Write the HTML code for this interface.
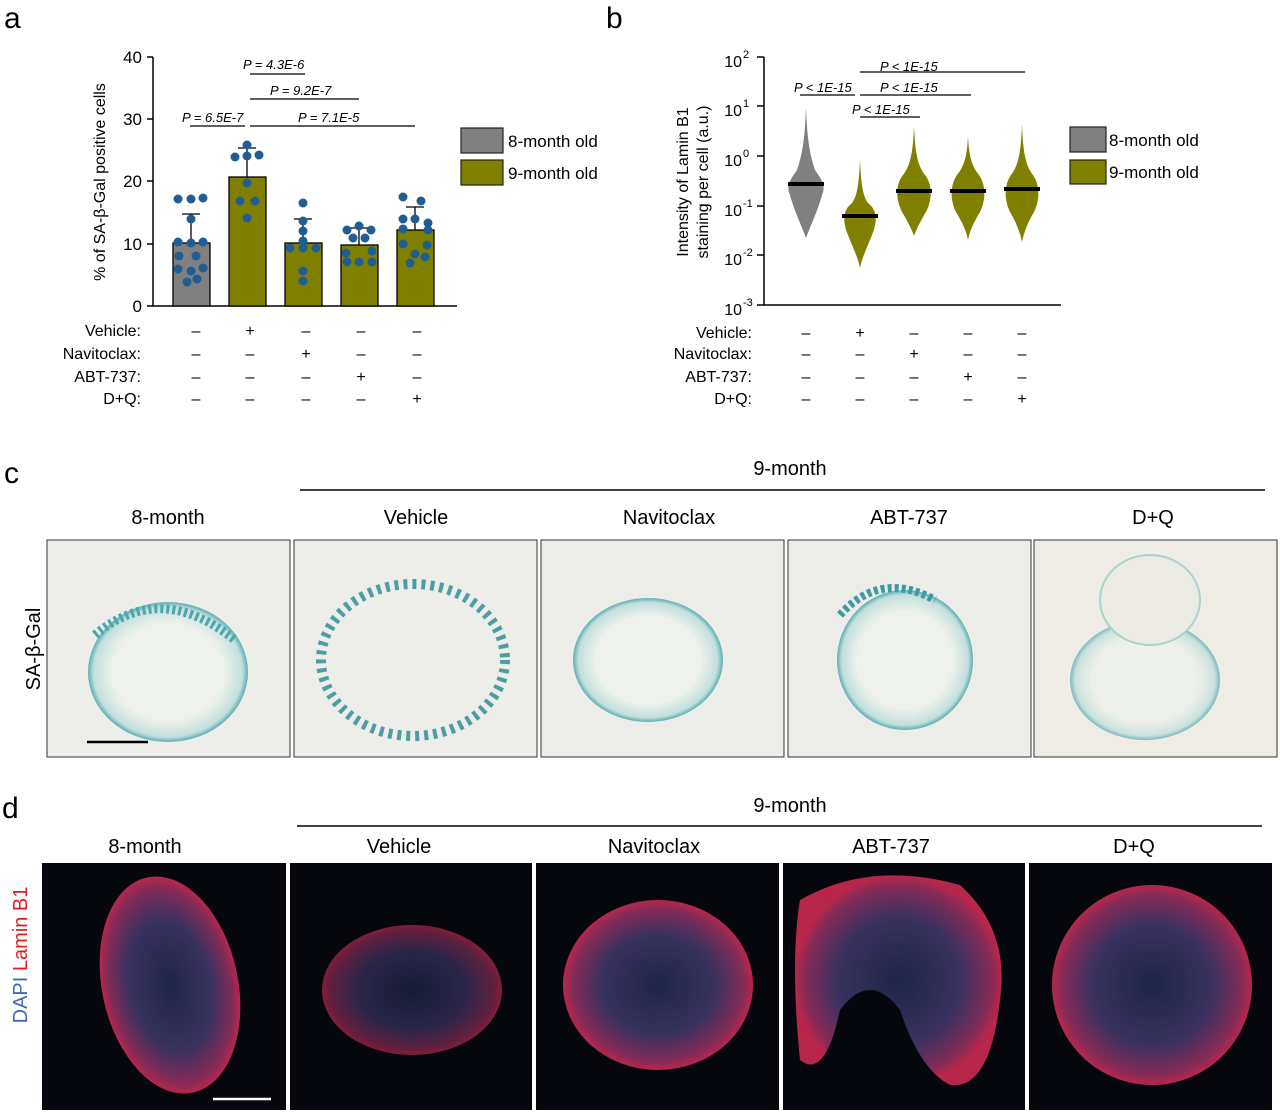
<!DOCTYPE html>
<html><head><style>
body{margin:0;background:#fff}
svg{display:block}
text{font-family:"Liberation Sans",Arial,sans-serif;fill:#000}
.it{font-style:italic;font-size:13px}
</style></head><body>
<svg width="1280" height="1112" viewBox="0 0 1280 1112" xmlns="http://www.w3.org/2000/svg">
<defs>
<radialGradient id="tealg" cx="50%" cy="50%" r="50%">
<stop offset="0.7" stop-color="#eef1ec"/><stop offset="0.93" stop-color="#c2dfdc"/><stop offset="1" stop-color="#5aaeb4"/>
</radialGradient>
<radialGradient id="redg" cx="50%" cy="50%" r="50%">
<stop offset="0" stop-color="#1e2448"/><stop offset="0.6" stop-color="#3a3260"/><stop offset="0.9" stop-color="#852a55"/><stop offset="1" stop-color="#b8264c"/>
</radialGradient>
</defs>
<text x="4" y="28" font-size="30">a</text>
<text x="606" y="28" font-size="30">b</text>
<text x="4" y="483" font-size="30">c</text>
<text x="2" y="818" font-size="30">d</text>

<!-- PANEL A -->
<g stroke="#000" stroke-width="1.5" fill="none">
<path d="M153,57 V306 H457"/>
<path d="M147,57H153 M147,119H153 M147,181H153 M147,244H153 M147,306H153"/>
</g>
<g font-size="17" text-anchor="end">
<text x="142" y="63">40</text><text x="142" y="125">30</text><text x="142" y="187">20</text><text x="142" y="250">10</text><text x="142" y="312">0</text>
</g>
<text transform="translate(105,182) rotate(-90)" font-size="16" text-anchor="middle">% of SA-β-Gal positive cells</text>
<g stroke="#000" stroke-width="1.3">
<rect x="173" y="243" width="37" height="63" fill="#808080"/>
<rect x="229" y="177" width="37" height="129" fill="#808000"/>
<rect x="285" y="243" width="37" height="63" fill="#808000"/>
<rect x="341" y="245" width="37" height="61" fill="#808000"/>
<rect x="397" y="230" width="37" height="76" fill="#808000"/>
<path d="M191,243V214 M182,214H200 M247,177V148 M238,148H256 M303,243V219 M294,219H312 M359,245V228 M350,228H368 M415,230V207 M406,207H424" fill="none"/>
</g>
<g fill="#1f5d93">
<circle cx="178" cy="199" r="4.5"/><circle cx="191" cy="199" r="4.5"/><circle cx="203" cy="198" r="4.5"/><circle cx="191" cy="219" r="4.5"/><circle cx="178" cy="242" r="4.5"/><circle cx="191" cy="243" r="4.5"/><circle cx="203" cy="242" r="4.5"/><circle cx="179" cy="256" r="4.5"/><circle cx="196" cy="256" r="4.5"/><circle cx="178" cy="269" r="4.5"/><circle cx="191" cy="271" r="4.5"/><circle cx="203" cy="268" r="4.5"/><circle cx="187" cy="282" r="4.5"/><circle cx="197" cy="279" r="4.5"/>
<circle cx="247" cy="145" r="4.5"/><circle cx="235" cy="157" r="4.5"/><circle cx="247" cy="156" r="4.5"/><circle cx="259" cy="155" r="4.5"/><circle cx="247" cy="183" r="4.5"/><circle cx="240" cy="201" r="4.5"/><circle cx="255" cy="201" r="4.5"/><circle cx="247" cy="218" r="4.5"/>
<circle cx="303" cy="203" r="4.5"/><circle cx="303" cy="221" r="4.5"/><circle cx="303" cy="231" r="4.5"/><circle cx="303" cy="241" r="4.5"/><circle cx="290" cy="248" r="4.5"/><circle cx="303" cy="248" r="4.5"/><circle cx="316" cy="248" r="4.5"/><circle cx="303" cy="271" r="4.5"/><circle cx="303" cy="281" r="4.5"/>
<circle cx="347" cy="230" r="4.5"/><circle cx="359" cy="226" r="4.5"/><circle cx="371" cy="230" r="4.5"/><circle cx="353" cy="238" r="4.5"/><circle cx="365" cy="238" r="4.5"/><circle cx="346" cy="253" r="4.5"/><circle cx="372" cy="251" r="4.5"/><circle cx="347" cy="262" r="4.5"/><circle cx="359" cy="262" r="4.5"/><circle cx="372" cy="262" r="4.5"/>
<circle cx="403" cy="197" r="4.5"/><circle cx="421" cy="201" r="4.5"/><circle cx="403" cy="219" r="4.5"/><circle cx="415" cy="219" r="4.5"/><circle cx="428" cy="223" r="4.5"/><circle cx="403" cy="229" r="4.5"/><circle cx="428" cy="230" r="4.5"/><circle cx="403" cy="244" r="4.5"/><circle cx="427" cy="245" r="4.5"/><circle cx="415" cy="254" r="4.5"/><circle cx="425" cy="257" r="4.5"/><circle cx="410" cy="263" r="4.5"/>
</g>
<g stroke="#000" stroke-width="1.2">
<path d="M250,74H305 M250,99H359 M190,126H245 M250,126H415"/>
</g>
<text class="it" x="243" y="69">P = 4.3E-6</text>
<text class="it" x="270" y="95">P = 9.2E-7</text>
<text class="it" x="182" y="122">P = 6.5E-7</text>
<text class="it" x="298" y="122">P = 7.1E-5</text>
<rect x="461" y="128" width="42" height="25" fill="#808080" stroke="#222" stroke-width="1.2"/>
<rect x="461" y="160" width="42" height="25" fill="#808000" stroke="#222" stroke-width="1.2"/>
<text x="508" y="147" font-size="17">8-month old</text>
<text x="508" y="179" font-size="17">9-month old</text>
<g font-size="16">
<g text-anchor="end"><text x="141" y="336">Vehicle:</text><text x="141" y="359">Navitoclax:</text><text x="141" y="382">ABT-737:</text><text x="141" y="404">D+Q:</text></g>
<g text-anchor="middle">
<text x="196" y="336">–</text><text x="250" y="336">+</text><text x="306" y="336">–</text><text x="361" y="336">–</text><text x="417" y="336">–</text>
<text x="196" y="359">–</text><text x="250" y="359">–</text><text x="306" y="359">+</text><text x="361" y="359">–</text><text x="417" y="359">–</text>
<text x="196" y="382">–</text><text x="250" y="382">–</text><text x="306" y="382">–</text><text x="361" y="382">+</text><text x="417" y="382">–</text>
<text x="196" y="404">–</text><text x="250" y="404">–</text><text x="306" y="404">–</text><text x="361" y="404">–</text><text x="417" y="404">+</text>
</g></g>

<!-- PANEL B -->
<g stroke="#000" stroke-width="1.5" fill="none">
<path d="M764,57 V305 H1061"/>
<path d="M757,57H764 M757,106H764 M757,156H764 M757,206H764 M757,255H764 M757,305H764"/>
</g>
<g font-size="16" text-anchor="end">
<text x="742" y="67">10</text><text x="742" y="116">10</text><text x="742" y="166">10</text><text x="742" y="216">10</text><text x="742" y="265">10</text><text x="742" y="315">10</text>
</g>
<g font-size="11">
<text x="743" y="58">2</text><text x="743" y="107">1</text><text x="743" y="157">0</text><text x="743" y="207">-1</text><text x="743" y="256">-2</text><text x="743" y="306">-3</text>
</g>
<text transform="translate(688,182) rotate(-90)" font-size="16" text-anchor="middle">Intensity of Lamin B1</text>
<text transform="translate(708,182) rotate(-90)" font-size="16" text-anchor="middle">staining per cell (a.u.)</text>
<path d="M806,108 C807,130 808,150 815,170 C822,180 826,186 822,195 C818,210 812,222 806,238 C800,222 794,210 790,195 C786,186 790,180 797,170 C804,150 805,130 806,108Z" fill="#808080"/>
<path d="M860,160 C861,180 862,195 868,203 C877,210 878,220 872,235 C866,250 862,258 860,268 C858,258 854,250 848,235 C842,220 843,210 852,203 C858,195 859,180 860,160Z" fill="#808000"/>
<path d="M914,126 C915,150 917,165 925,175 C933,185 932,200 926,212 C920,222 916,230 914,236 C912,230 908,222 902,212 C896,200 895,185 903,175 C911,165 913,150 914,126Z" fill="#808000"/>
<path d="M968,136 C969,155 971,165 979,175 C986,185 986,200 980,212 C974,222 970,230 968,240 C966,230 962,222 956,212 C950,200 950,185 957,175 C965,165 967,155 968,136Z" fill="#808000"/>
<path d="M1022,124 C1023,150 1025,165 1033,175 C1040,185 1040,200 1034,212 C1028,222 1024,232 1022,242 C1020,232 1016,222 1010,212 C1004,200 1004,185 1011,175 C1019,165 1021,150 1022,124Z" fill="#808000"/>
<g stroke="#000" stroke-width="4">
<path d="M788,184H824 M842,216H878 M896,191H932 M950,191H986 M1004,189H1040"/>
</g>
<g stroke="#000" stroke-width="1.2">
<path d="M860,72H1025 M860,95H971 M800,95H855 M860,117H920"/>
</g>
<text class="it" x="880" y="71">P &lt; 1E-15</text>
<text class="it" x="794" y="92">P &lt; 1E-15</text>
<text class="it" x="880" y="92">P &lt; 1E-15</text>
<text class="it" x="852" y="114">P &lt; 1E-15</text>
<rect x="1070" y="127" width="36" height="25" fill="#808080" stroke="#222" stroke-width="1.2"/>
<rect x="1070" y="160" width="36" height="24" fill="#808000" stroke="#222" stroke-width="1.2"/>
<text x="1109" y="146" font-size="17">8-month old</text>
<text x="1109" y="178" font-size="17">9-month old</text>
<g font-size="16">
<g text-anchor="end"><text x="752" y="338">Vehicle:</text><text x="752" y="359">Navitoclax:</text><text x="752" y="382">ABT-737:</text><text x="752" y="404">D+Q:</text></g>
<g text-anchor="middle">
<text x="806" y="338">–</text><text x="860" y="338">+</text><text x="914" y="338">–</text><text x="968" y="338">–</text><text x="1022" y="338">–</text>
<text x="806" y="359">–</text><text x="860" y="359">–</text><text x="914" y="359">+</text><text x="968" y="359">–</text><text x="1022" y="359">–</text>
<text x="806" y="382">–</text><text x="860" y="382">–</text><text x="914" y="382">–</text><text x="968" y="382">+</text><text x="1022" y="382">–</text>
<text x="806" y="404">–</text><text x="860" y="404">–</text><text x="914" y="404">–</text><text x="968" y="404">–</text><text x="1022" y="404">+</text>
</g></g>

<!-- PANEL C -->
<text x="790" y="475" font-size="20" text-anchor="middle">9-month</text>
<path d="M300,490H1265" stroke="#000" stroke-width="1.5"/>
<g font-size="20" text-anchor="middle">
<text x="168" y="524">8-month</text><text x="416" y="524">Vehicle</text><text x="669" y="524">Navitoclax</text><text x="909" y="524">ABT-737</text><text x="1153" y="524">D+Q</text>
</g>
<text transform="translate(40,649) rotate(-90)" font-size="20" text-anchor="middle">SA-β-Gal</text>
<g stroke="#333" stroke-width="1">
<rect x="47" y="540" width="243" height="217" fill="#ededea"/>
<rect x="294" y="540" width="243" height="217" fill="#ededea"/>
<rect x="541" y="540" width="243" height="217" fill="#ecece8"/>
<rect x="788" y="540" width="243" height="217" fill="#ecece8"/>
<rect x="1034" y="540" width="243" height="217" fill="#efece6"/>
</g>
<ellipse cx="168" cy="672" rx="80" ry="70" fill="url(#tealg)"/>
<path d="M95,635 Q160,580 235,640" stroke="#4aa7ad" stroke-width="9" fill="none" stroke-dasharray="3 3"/>
<ellipse cx="413" cy="660" rx="92" ry="76" fill="none" stroke="#2f8f98" stroke-width="10" stroke-dasharray="4 5" opacity="0.85"/>
<ellipse cx="648" cy="660" rx="75" ry="62" fill="url(#tealg)"/>
<ellipse cx="905" cy="660" rx="68" ry="70" fill="url(#tealg)"/>
<path d="M840,615 Q880,570 935,600" stroke="#3d9aa3" stroke-width="8" fill="none" stroke-dasharray="4 3"/>
<ellipse cx="1145" cy="680" rx="75" ry="60" fill="url(#tealg)" opacity="0.8"/>
<ellipse cx="1150" cy="600" rx="50" ry="45" fill="#ebebe3" stroke="#a8d2d0" stroke-width="2"/>
<path d="M87,742H148" stroke="#000" stroke-width="2.5"/>

<!-- PANEL D -->
<text x="790" y="812" font-size="20" text-anchor="middle">9-month</text>
<path d="M297,826H1262" stroke="#000" stroke-width="1.5"/>
<g font-size="20" text-anchor="middle">
<text x="145" y="853">8-month</text><text x="399" y="853">Vehicle</text><text x="654" y="853">Navitoclax</text><text x="891" y="853">ABT-737</text><text x="1134" y="853">D+Q</text>
</g>
<text transform="translate(27,955) rotate(-90)" font-size="20" text-anchor="middle"><tspan fill="#3d6bb5">DAPI</tspan> <tspan fill="#e02020">Lamin B1</tspan></text>
<g fill="#05070c">
<rect x="42" y="863" width="244" height="247"/><rect x="290" y="863" width="242" height="247"/><rect x="536" y="863" width="243" height="247"/><rect x="783" y="863" width="242" height="247"/><rect x="1029" y="863" width="243" height="247"/>
</g>
<ellipse cx="170" cy="985" rx="68" ry="110" fill="url(#redg)" transform="rotate(-12 170 985)"/>
<ellipse cx="412" cy="990" rx="90" ry="65" fill="url(#redg)" opacity="0.7"/>
<ellipse cx="658" cy="985" rx="95" ry="85" fill="url(#redg)"/>
<path d="M800,900 Q870,860 960,885 Q1010,930 1000,1000 Q990,1090 950,1085 Q920,1070 900,1010 Q870,970 840,1010 Q825,1080 800,1060 Q790,960 800,900Z" fill="url(#redg)"/>
<ellipse cx="1152" cy="985" rx="100" ry="100" fill="url(#redg)"/>
<path d="M213,1099H271" stroke="#fff" stroke-width="2.5"/>
</svg>
</body></html>
